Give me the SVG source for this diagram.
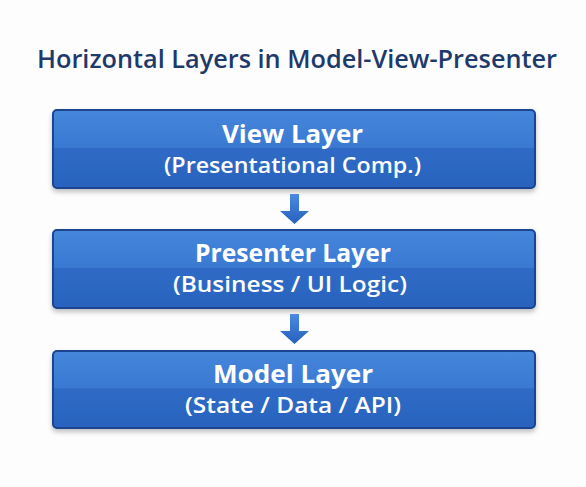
<svg xmlns="http://www.w3.org/2000/svg" width="586" height="487" viewBox="0 0 586 487">
<defs>
<linearGradient id="boxg" x1="0" y1="0" x2="0" y2="1">
<stop offset="0" stop-color="#4587dc"/>
<stop offset="0.48" stop-color="#3a79d2"/>
<stop offset="0.49" stop-color="#2e6bc6"/>
<stop offset="1" stop-color="#2a63be"/>
</linearGradient>
<linearGradient id="arrg" x1="0" y1="0" x2="0" y2="1">
<stop offset="0" stop-color="#4a8ae0"/>
<stop offset="1" stop-color="#2561bd"/>
</linearGradient>
<filter id="sh" x="-5%" y="-10%" width="110%" height="130%">
<feGaussianBlur in="SourceAlpha" stdDeviation="2.5"/>
<feOffset dy="3"/>
<feComponentTransfer><feFuncA type="linear" slope="0.25"/></feComponentTransfer>
<feMerge><feMergeNode/><feMergeNode in="SourceGraphic"/></feMerge>
</filter>
<style>
.box{fill:url(#boxg);stroke:#1b4591;stroke-width:2;filter:url(#sh)}
.t1{font-family:"Open Sans","Noto Sans",sans-serif;font-weight:700;font-size:25.5px;fill:#ffffff;text-anchor:middle}
.t2{font-family:"Open Sans","Noto Sans",sans-serif;font-weight:600;font-size:22px;fill:#ffffff;text-anchor:middle}
.ttl{font-family:"Open Sans","Noto Sans",sans-serif;font-weight:600;font-size:25px;fill:#1e3a6b;text-anchor:middle}
.arr{fill:url(#arrg)}
</style>
</defs>
<rect width="586" height="487" fill="#fdfdfe"/>
<text class="ttl" x="297" y="68" textLength="520" lengthAdjust="spacingAndGlyphs">Horizontal Layers in Model-View-Presenter</text>
<g id="view">
<rect class="box" x="53" y="110" width="482" height="78" rx="4"/>
<text class="t1" x="292.5" y="143" textLength="141" lengthAdjust="spacingAndGlyphs">View Layer</text>
<text class="t2" x="292.5" y="173" textLength="257" lengthAdjust="spacingAndGlyphs">(Presentational Comp.)</text>
</g>
<g id="presenter">
<rect class="box" x="53" y="230" width="482" height="78" rx="4"/>
<text class="t1" x="293" y="262" textLength="196" lengthAdjust="spacingAndGlyphs">Presenter Layer</text>
<text class="t2" x="290" y="292" textLength="234" lengthAdjust="spacingAndGlyphs">(Business / UI Logic)</text>
</g>
<g id="model">
<rect class="box" x="53" y="351" width="482" height="77" rx="4"/>
<text class="t1" x="293" y="383" textLength="160" lengthAdjust="spacingAndGlyphs">Model Layer</text>
<text class="t2" x="293" y="413" textLength="216" lengthAdjust="spacingAndGlyphs">(State / Data / API)</text>
</g>
<g id="connectors">
<path class="arr" d="M290,194 H299 V211 H309 L294.5,224 L280,211 H290 Z"/>
<path class="arr" d="M290,314 H299 V331 H309 L294.5,344 L280,331 H290 Z"/>
</g>
</svg>
